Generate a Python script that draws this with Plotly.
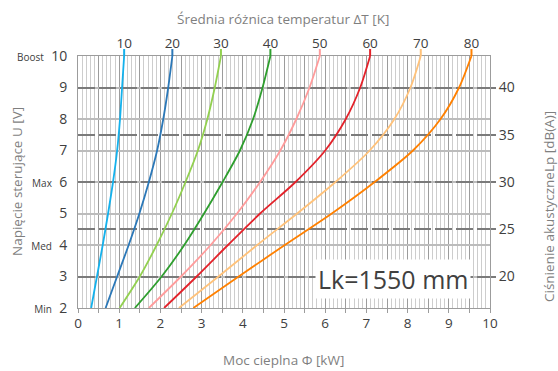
import plotly.graph_objects as go

# ---------------- data ----------------
voltage = [2, 3, 4, 5, 6, 7, 8, 9, 10]          # control voltage U [V]
dT_labels = ["10", "20", "30", "40", "50", "60", "70", "80"]  # ΔT [K]

power_dT10 = [0.32, 0.46, 0.60, 0.73, 0.85, 0.95, 1.02, 1.07, 1.12]
power_dT20 = [0.67, 0.95, 1.23, 1.49, 1.72, 1.92, 2.07, 2.19, 2.29]
power_dT30 = [1.01, 1.50, 1.91, 2.28, 2.61, 2.91, 3.14, 3.32, 3.47]
power_dT40 = [1.38, 2.03, 2.58, 3.06, 3.51, 3.93, 4.25, 4.48, 4.67]
power_dT50 = [1.72, 2.50, 3.22, 3.86, 4.42, 4.91, 5.30, 5.62, 5.87]
power_dT60 = [2.09, 2.88, 3.64, 4.42, 5.28, 6.00, 6.50, 6.85, 7.09]
power_dT70 = [2.45, 3.41, 4.35, 5.32, 6.25, 7.08, 7.68, 8.07, 8.32]
power_dT80 = [2.80, 3.90, 5.02, 6.16, 7.20, 8.13, 8.80, 9.25, 9.55]

colors = ["#14B1EC", "#2B78B8", "#92D050", "#2E9E2E",
          "#FF9C9C", "#E3222A", "#FFC27A", "#FF8000"]

x_ticks = [0, 1, 2, 3, 4, 5, 6, 7, 8, 9, 10]
level_names = {10: "Boost", 6: "Max", 4: "Med", 2: "Min"}
db_ticks = [20, 25, 30, 35, 40]
db_at_6V = 30.0
volt_per_db = 0.3

series = [power_dT10, power_dT20, power_dT30, power_dT40,
          power_dT50, power_dT60, power_dT70, power_dT80]

# ---------------- figure ----------------
FONT = "Open Sans"
TICK_COL = "#404040"
TITLE_COL = "#7f7f7f"

fig = go.Figure()
for lab, vals, col in zip(dT_labels, series, colors):
    fig.add_trace(go.Scatter(x=vals, y=voltage, mode="lines", name=lab,
                             line=dict(color=col, width=1.8, shape="spline", smoothing=0.8),
                             showlegend=False, hoverinfo="skip"))

# colored tick marks above the plot at the curve ends
for vals, col in zip(series, colors):
    fig.add_shape(type="line", xref="x", yref="paper", x0=vals[-1], x1=vals[-1],
                  y0=1, y1=1 + 7 / 252, line=dict(color=col, width=2))

half_vals = [i * 0.5 for i in range(2 * x_ticks[-1] + 1)]
half_text = [str(int(v)) if v in x_ticks else "" for v in half_vals]

y_text = []
for v in voltage:
    if v in level_names:
        y_text.append("<span style='font-size:10px'>%s</span>\u00a0\u00a0%d" % (level_names[v], v))
    else:
        y_text.append(str(v))

v_lo, v_hi = voltage[0], voltage[-1]
db_lo = db_at_6V + (v_lo - 6) / volt_per_db
db_hi = db_at_6V + (v_hi - 6) / volt_per_db

fig.update_layout(
    width=558, height=371, autosize=False,
    margin=dict(l=78, r=68, t=56, b=63),
    paper_bgcolor="white", plot_bgcolor="white",
    font=dict(family=FONT, color=TICK_COL),
    xaxis=dict(range=[0, 10], tickmode="array", tickvals=half_vals, ticktext=half_text,
               showgrid=True, gridcolor="#9c9c9c", gridwidth=1,
               minor=dict(dtick=0.1, tick0=0, showgrid=True, gridcolor="#cdcdcd", gridwidth=1),
               ticks="outside", ticklen=4, tickcolor="#9c9c9c",
               showline=True, linecolor="#9c9c9c", mirror=True, zeroline=False,
               ticklabelstandoff=-1,
               tickfont=dict(size=13.5, color=TICK_COL)),
    xaxis2=dict(range=[0, 10], overlaying="x", side="top", anchor="y",
                tickmode="array", tickvals=[s[-1] for s in series], ticktext=dT_labels,
                showgrid=False, zeroline=False, showline=False, ticks="",
                ticklabelstandoff=4,
                tickfont=dict(size=13.5, color=TICK_COL)),
    yaxis=dict(range=[v_lo, v_hi], tickmode="array", tickvals=voltage, ticktext=y_text,
               showgrid=True, gridcolor="#bcbcbc", gridwidth=1.5,
               showline=True, linecolor="#9c9c9c", mirror=True, zeroline=False,
               ticks="outside", ticklen=3, tickcolor="rgba(0,0,0,0)",
               ticklabelstandoff=4,
               tickfont=dict(size=14, color=TICK_COL)),
    yaxis2=dict(range=[db_lo, db_hi], overlaying="y", side="right", anchor="x",
                tickmode="array", tickvals=db_ticks,
                showgrid=True, gridcolor="#7a7a7a", gridwidth=2, griddash="17px,4px",
                ticks="outside", ticklen=5, tickcolor="#7a7a7a", tickwidth=2,
                zeroline=False, showline=False,
                tickfont=dict(size=14, color=TICK_COL)),
)

# invisible helper trace so the overlay axes are drawn
fig.add_trace(go.Scatter(x=[None], y=[None], xaxis="x2", yaxis="y2",
                         showlegend=False, hoverinfo="skip"))

ann = [
    dict(text="Moc cieplna Φ [kW]", x=(283 - 78) / 412, y=(308 - 360) / 252),
    dict(text="Średnia różnica temperatur ΔT [K]", x=(283 - 78) / 412, y=(308 - 19) / 252),
    dict(text="Napięcie sterujące U [V]", x=(17 - 78) / 412, y=0.5, textangle=-90),
    dict(text="Ciśnienie akustyczneLp [dB(A)]", x=(549 - 78) / 412, y=(308 - 207) / 252, textangle=-90),
]
for a in ann:
    fig.add_annotation(xref="paper", yref="paper", showarrow=False,
                       xanchor="center", yanchor="middle",
                       font=dict(family=FONT, size=13.5, color=TITLE_COL), **a)

fig.add_annotation(xref="paper", yref="paper", showarrow=False,
                   x=(393 - 78) / 412, y=(308 - 279) / 252, xanchor="center", yanchor="middle",
                   text="Lk=1550 mm", bgcolor="white", borderpad=2,
                   font=dict(family=FONT, size=25, color=TICK_COL))

fig.write_html("out.html", config={"displayModeBar": False},
               post_script="document.body.style.margin='0';")
